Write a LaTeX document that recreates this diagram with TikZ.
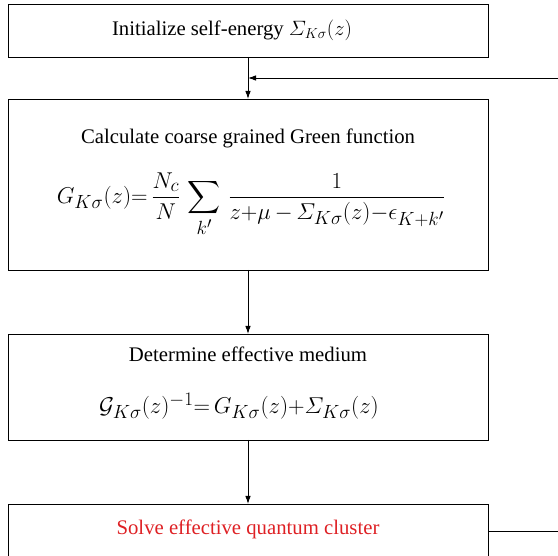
\documentclass[tikz,border=0pt]{standalone}
\usepackage{amsmath}
\usepackage{graphicx}
\usepackage{fontspec}
\setmainfont{Liberation Serif}
\usetikzlibrary{arrows.meta}
\definecolor{solvered}{RGB}{222,32,36}
\newcommand{\mathbig}[1]{\scalebox{0.92}{\fontsize{24.88}{28}\selectfont #1}}
\begin{document}
\begin{tikzpicture}[x=1pt,y=1pt,
  box/.style={draw=black,line width=0.9pt,minimum width=480pt,inner sep=0pt,outer sep=0pt},
  txt/.style={inner sep=0pt,font=\fontsize{20.74}{24}\selectfont},
  mth/.style={inner sep=0pt},
  flow/.style={line width=0.9pt,-{Latex[length=8pt,width=5.5pt]}},
  plain/.style={line width=0.9pt}]
\useasboundingbox (0,0) rectangle (558,-556);
\clip (0,0) rectangle (558,-556);
% boxes
\node[box,minimum height=53pt] (b1) at (248,-30.5) {};
\node[box,minimum height=171pt] (b2) at (248,-184.5) {};
\node[box,minimum height=106pt] (b3) at (248,-387) {};
\node[box,minimum height=80pt] (b4) at (248,-544) {};
% texts
\node[txt] (t1) at (232,-30.5) {Initialize self-energy $\varSigma_{K\sigma}(z)$};
\node[txt] (t2) at (248,-138) {Calculate coarse grained Green function};
\node[mth,anchor=base] (f2) at (251,-203.5) {\mathbig{$\displaystyle G_{K\sigma}(z){=}\,\frac{N_c}{N}\,\sum_{k'}\,\frac{1}{z{+}\mu\,{-}\,\varSigma_{K\sigma}(z){-}\epsilon_{K+k'}}$}};
\node[txt] (t3) at (248,-354) {Determine effective medium};
\node[mth] (f3) at (239,-406) {\mathbig{$\mathcal{G}_{K\sigma}(z)^{-1}{=}\,G_{K\sigma}(z){+}\varSigma_{K\sigma}(z)$}};
\node[txt,text=solvered] (t4) at (248,-529.5) {Solve effective quantum cluster};
% connectors
\coordinate (fbin) at (558,-78);
\coordinate (fbmid) at (248,-78);
\coordinate (b4r) at (488,-531);
\coordinate (fbout) at (558,-531);
\draw[flow] (b1.south) -- (b2.north);
\draw[flow] (fbin) -- (fbmid);
\draw[flow] (b2.south) -- (b3.north);
\draw[flow] (b3.south) -- (b4.north);
\draw[plain] (b4r) -- (fbout);
\end{tikzpicture}
\end{document}
